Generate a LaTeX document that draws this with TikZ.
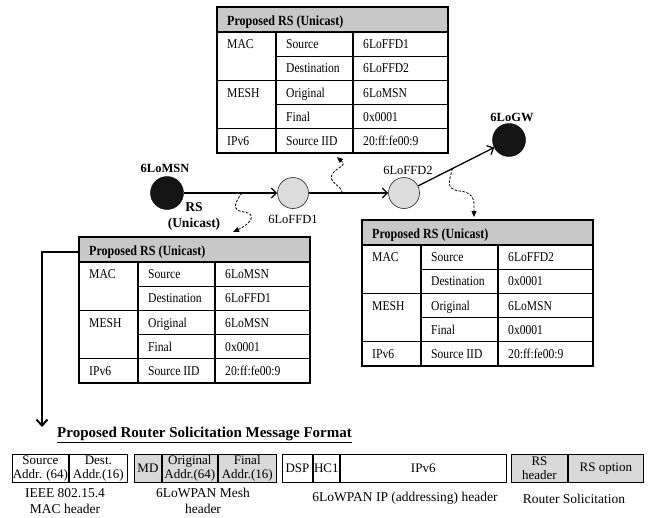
\documentclass[tikz,border=0pt]{standalone}
\usepackage{fontspec}
\setmainfont{Liberation Serif}
\newfontfamily\narrowfont[FakeStretch=0.86]{Liberation Serif}
\usetikzlibrary{arrows.meta,positioning}

\definecolor{hdgray}{HTML}{C8C8C8}
\definecolor{nodegray}{HTML}{DCDCDC}
\definecolor{boxgray}{HTML}{D9D9D9}

\tikzset{
  tabline/.style={draw=black,line width=1.3pt},
  hdcell/.style={fill=hdgray,draw=black,line width=1.3pt},
  hdtext/.style={anchor=base west,inner sep=0pt,font=\narrowfont\bfseries\fontsize{14}{15}\selectfont},
  celltext/.style={anchor=base west,inner sep=0pt,font=\narrowfont\fontsize{13.5}{15}\selectfont},
  host/.style={circle,fill=black!92,draw=black,minimum size=33,inner sep=0pt},
  relay/.style={circle,fill=nodegray,draw=black!85,line width=0.6pt,minimum size=31,inner sep=0pt},
  hostlbl/.style={inner sep=0pt,font=\bfseries\fontsize{12.5}{14}\selectfont},
  relaylbl/.style={inner sep=0pt,font=\fontsize{12.5}{14}\selectfont},
  rslbl/.style={inner sep=0pt,align=center,font=\bfseries\fontsize{13.5}{16}\selectfont},
  link/.style={line width=1.3pt,-{Straight Barb[length=5pt,width=10pt,line width=1.3pt]}},
  wavy/.style={line width=0.8pt,dash pattern=on 2.5pt off 1.5pt,-{Triangle[length=6pt,width=5pt]}},
  feed/.style={line width=2pt,-{Straight Barb[length=6pt,width=11pt,line width=2pt]}},
  field/.style={draw=black,line width=0.9pt,minimum height=28,inner sep=0pt,align=center,anchor=north west,font=\fontsize{13}{14}\selectfont},
  caption/.style={inner sep=0pt,align=center,font=\fontsize{13.5}{15.5}\selectfont},
  title/.style={inner sep=0pt,font=\bfseries\fontsize{15}{17}\selectfont}
}

% table of one RS hop: origin, name, MAC source, MAC destination
\newcommand\rstable[4]{%
\begin{scope}[shift={#1}]
\filldraw[hdcell] (0,0) rectangle (231,25);
\draw[tabline] (0,25) rectangle (231,146);
\draw[tabline] (59,25) -- (59,146) (136,25) -- (136,146);
\draw[tabline] (59,49.2) -- (231,49.2) (0,73.4) -- (231,73.4)
  (59,97.6) -- (231,97.6) (0,121.8) -- (231,121.8);
\coordinate (#2-hw) at (0,15);
\node[hdtext] (#2-title) at (10,18.5) {Proposed RS (Unicast)};
\node[celltext] (#2-mac) at (10,41.6) {MAC};
\node[celltext] (#2-src) at (69,41.6) {Source};
\node[celltext] (#2-srcv) at (146,41.6) {#3};
\node[celltext] (#2-dst) at (69,65.8) {Destination};
\node[celltext] (#2-dstv) at (146,65.8) {#4};
\node[celltext] (#2-mesh) at (10,90) {MESH};
\node[celltext] (#2-orig) at (69,90) {Original};
\node[celltext] (#2-origv) at (146,90) {6LoMSN};
\node[celltext] (#2-fin) at (69,114.2) {Final};
\node[celltext] (#2-finv) at (146,114.2) {0x0001};
\node[celltext] (#2-ip) at (10,138.4) {IPv6};
\node[celltext] (#2-iid) at (69,138.4) {Source IID};
\node[celltext] (#2-iidv) at (146,138.4) {20:ff:fe00:9};
\end{scope}}

\begin{document}
\begin{tikzpicture}[x=1pt,y=-1pt]
\useasboundingbox (0,0) rectangle (650,517);

% the three hop tables
\rstable{(217,7)}{tt}{6LoFFD1}{6LoFFD2}
\rstable{(79,237)}{lt}{6LoMSN}{6LoFFD1}
\rstable{(362,220)}{rt}{6LoFFD2}{0x0001}

% hosts and relays
\node[host] (msn) at (167,193) {};
\node[relay] (ffd1) at (293,193) {};
\node[relay] (ffd2) at (404,193) {};
\node[host] (gw) at (509,140) {};
\node[hostlbl] (msnlbl) at (165,168) {6LoMSN};
\node[hostlbl] (gwlbl) at (512,117) {6LoGW};
\node[relaylbl] (ffd1lbl) at (293,219) {6LoFFD1};
\node[relaylbl] (ffd2lbl) at (408,170) {6LoFFD2};
\node[rslbl] (rslbl) at (194,216) {RS\\(Unicast)};

\draw[link] (msn) -- (ffd1) coordinate[pos=0.62] (w1);
\draw[link] (ffd1) -- (ffd2) coordinate[pos=0.42] (w2);
\draw[link] (ffd2) -- (gw) coordinate[pos=0.45] (w3);

% pointers to the tables
\coordinate (t1) at (233,232);
\coordinate (t2) at (337,157);
\coordinate (t3) at (474,217);
\draw[wavy] (w1) .. controls (236,202) and (230,210) .. (244,212)
  .. controls (258,214) and (250,224) .. (t1);
\draw[wavy] (w2) .. controls (342,185) and (326,182) .. (333,173)
  .. controls (339,166) and (347,166) .. (t2);
\draw[wavy] (w3) .. controls (450,180) and (444,189) .. (460,191)
  .. controls (476,193) and (474,203) .. (t3);

% down to the message format
\coordinate (fmt) at (42,427);
\draw[feed] (lt-hw) -| (fmt);
\node[title,anchor=base west] (fmttitle) at (57,437) {\underline{Proposed Router Solicitation Message Format}};

% message fields
\node[field,fill=white,minimum width=56] (srcaddr) at (12,454) {Source\\Addr. (64)};
\node[field,fill=white,minimum width=58,right=0pt of srcaddr] (dstaddr) {Dest.\\Addr.(16)};
\node[field,fill=boxgray,minimum width=27] (md) at (134,454) {MD};
\node[field,fill=boxgray,minimum width=55,right=0pt of md] (origaddr) {Original\\Addr.(64)};
\node[field,fill=boxgray,minimum width=58,right=0pt of origaddr] (finaddr) {Final\\Addr.(16)};
\node[field,fill=white,minimum width=30] (dsp) at (282,454) {DSP};
\node[field,fill=white,minimum width=26,right=0pt of dsp] (hc1) {HC1};
\node[field,fill=white,minimum width=166,right=0pt of hc1] (ipv6) {IPv6};
\node[field,fill=boxgray,minimum width=56] (rshdr) at (511,454) {RS\\header};
\node[field,fill=boxgray,minimum width=75,right=0pt of rshdr] (rsopt) {RS option};

\node[caption] (maccap) at (65,501) {IEEE 802.15.4\\MAC header};
\node[caption] (meshcap) at (203,501) {6LoWPAN Mesh\\header};
\node[caption] (ipcap) at (405,498) {6LoWPAN IP (addressing) header};
\node[caption] (rscap) at (574,499) {Router Solicitation};
\end{tikzpicture}
\end{document}
